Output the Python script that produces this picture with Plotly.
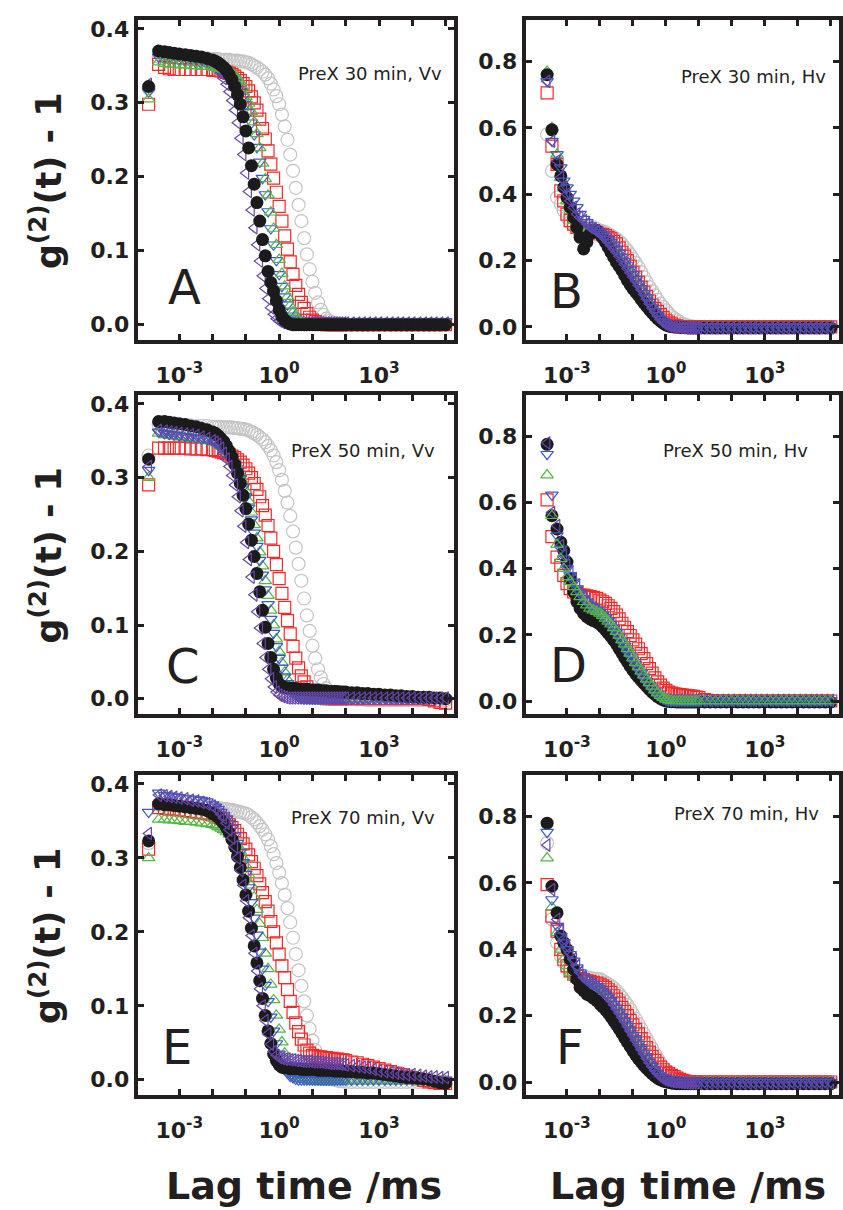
import plotly.graph_objects as go

W, H = 843, 1210

# ---------------- lag-time grids (ms) ----------------
t_vv = [1.2e-4, 2.4e-4, 3.6e-4, 5e-4, 7e-4, 1e-3, 1.5e-3, 2.2e-3, 3.2e-3, 4.6e-3, 6.8e-3,
        0.01, 0.0121, 0.0147, 0.0178, 0.0215, 0.0261, 0.0316, 0.0383, 0.0464, 0.0562, 0.0681, 0.0825,
        0.1, 0.121, 0.147, 0.178, 0.215, 0.261, 0.316, 0.383, 0.464, 0.562, 0.681, 0.825,
        1, 1.21, 1.47, 1.78, 2.15, 2.61, 3.16, 3.83, 4.64, 5.62, 6.81, 8.25,
        10, 12.1, 14.7, 17.8, 21.5, 26.1, 31.6, 38.3, 46.4, 56.2, 68.1, 82.5,
        100, 150, 220, 320, 460, 680,
        1e3, 1.5e3, 2.2e3, 3.2e3, 4.6e3, 6.8e3,
        1e4, 1.5e4, 2.2e4, 3.2e4, 4.6e4, 6.8e4,
        1e5]

t_hv = [2.5e-4, 3.5e-4, 5e-4, 6.5e-4, 8e-4, 1e-3, 1.25e-3, 1.6e-3, 2e-3, 2.5e-3, 3.2e-3, 4e-3, 5e-3, 6.3e-3, 8e-3,
        0.01, 0.0121, 0.0147, 0.0178, 0.0215, 0.0261, 0.0316, 0.0383, 0.0464, 0.0562, 0.0681, 0.0825,
        0.1, 0.121, 0.147, 0.178, 0.215, 0.261, 0.316, 0.383, 0.464, 0.562, 0.681, 0.825,
        1, 1.21, 1.47, 1.78, 2.15, 2.61, 3.16, 3.83, 4.64, 5.62, 6.81, 8.25,
        10, 15, 22, 32, 46, 68,
        100, 150, 220, 320, 460, 680,
        1e3, 1.5e3, 2.2e3, 3.2e3, 4.6e3, 6.8e3,
        1e4, 1.5e4, 2.2e4, 3.2e4, 4.6e4, 6.8e4,
        1e5]

# ---------------- Panel A : PreX 30 min, Vv ----------------
gray_A = [0.320, 0.362, 0.362, 0.362, 0.362, 0.361, 0.361, 0.361, 0.360, 0.360, 0.360,
          0.359, 0.359, 0.359, 0.358, 0.358, 0.358, 0.358, 0.357, 0.357, 0.357, 0.356, 0.356,
          0.355, 0.354, 0.352, 0.350, 0.348, 0.345, 0.342, 0.338, 0.333, 0.326, 0.318, 0.309,
          0.298, 0.284, 0.268, 0.250, 0.230, 0.208, 0.185, 0.162, 0.140, 0.117, 0.095, 0.075,
          0.058, 0.043, 0.030, 0.020, 0.013, 0.008, 0.005, 0.003, 0.002, 0.001, 0.001, 0.000,
          0, 0, 0, 0, 0, 0,
          0, 0, 0, 0, 0, 0,
          0, 0, 0, 0, 0, 0,
          0]
red_A = [0.298, 0.352, 0.348, 0.346, 0.345, 0.345, 0.345, 0.345, 0.345, 0.345, 0.345,
         0.344, 0.344, 0.344, 0.343, 0.342, 0.341, 0.340, 0.338, 0.336, 0.333, 0.330, 0.326,
         0.322, 0.316, 0.308, 0.300, 0.290, 0.278, 0.265, 0.251, 0.235, 0.217, 0.198, 0.179,
         0.160, 0.140, 0.120, 0.102, 0.085, 0.068, 0.053, 0.041, 0.030, 0.022, 0.015, 0.010,
         0.006, 0.004, 0.002, 0.001, 0.001, 0, 0, 0, 0, 0, 0, 0,
         0, 0, 0, 0, 0, 0,
         0, 0, 0, 0, 0, 0,
         0, 0, 0, 0, 0, 0,
         0]
green_A = [0.305, 0.355, 0.353, 0.352, 0.352, 0.351, 0.351, 0.350, 0.350, 0.349, 0.349,
           0.348, 0.348, 0.347, 0.346, 0.345, 0.344, 0.342, 0.340, 0.337, 0.333, 0.328, 0.320,
           0.308, 0.299, 0.288, 0.274, 0.258, 0.239, 0.218, 0.197, 0.175, 0.152, 0.130, 0.108,
           0.088, 0.069, 0.052, 0.038, 0.026, 0.017, 0.010, 0.006, 0.003, 0.002, 0.001, 0,
           0, 0, 0, 0, 0, 0, 0, 0, 0, 0, 0, 0,
           0, 0, 0, 0, 0, 0,
           0, 0, 0, 0, 0, 0,
           0, 0, 0, 0, 0, 0,
           0]
blue_A = [0.315, 0.362, 0.360, 0.359, 0.358, 0.357, 0.356, 0.355, 0.354, 0.353, 0.352,
          0.350, 0.349, 0.347, 0.345, 0.343, 0.340, 0.337, 0.333, 0.328, 0.323, 0.316, 0.308,
          0.298, 0.287, 0.273, 0.257, 0.240, 0.220, 0.198, 0.176, 0.153, 0.130, 0.108, 0.087,
          0.068, 0.052, 0.038, 0.027, 0.018, 0.012, 0.008, 0.006, 0.004, 0.004, 0.004, 0.004,
          0.004, 0.004, 0.004, 0.004, 0.004, 0.004, 0.004, 0.004, 0.004, 0.004, 0.004, 0.004,
          0.004, 0.004, 0.004, 0.004, 0.004, 0.004,
          0.004, 0.004, 0.004, 0.004, 0.004, 0.004,
          0.004, 0.004, 0.004, 0.004, 0.004, 0.004,
          0.004]
purple_A = [0.325, 0.366, 0.365, 0.364, 0.363, 0.362, 0.361, 0.360, 0.359, 0.358, 0.356,
            0.353, 0.350, 0.345, 0.340, 0.333, 0.325, 0.315, 0.303, 0.290, 0.273, 0.252, 0.230,
            0.205, 0.180, 0.155, 0.131, 0.108, 0.086, 0.066, 0.049, 0.035, 0.023, 0.014, 0.008,
            0.005, 0.003, 0.002, 0.002, 0.002, 0.002, 0.002, 0.002, 0.002, 0.002, 0.002, 0.002,
            0.002, 0.002, 0.002, 0.002, 0.002, 0.002, 0.002, 0.002, 0.002, 0.002, 0.002, 0.002,
            0.002, 0.002, 0.002, 0.002, 0.002, 0.002,
            0.002, 0.002, 0.002, 0.002, 0.002, 0.002,
            0.002, 0.002, 0.002, 0.002, 0.002, 0.002,
            0.002]
black_A = [0.322, 0.370, 0.369, 0.368, 0.367, 0.366, 0.365, 0.364, 0.363, 0.362, 0.360,
           0.358, 0.356, 0.354, 0.351, 0.348, 0.344, 0.338, 0.331, 0.322, 0.311, 0.298, 0.281,
           0.262, 0.239, 0.215, 0.190, 0.165, 0.140, 0.115, 0.093, 0.072, 0.057, 0.045, 0.032,
           0.020, 0.011, 0.006, 0.003, 0.001, 0, 0, 0, 0, 0, 0, 0,
           0, 0, 0, 0, 0, 0, 0, 0, 0, 0, 0, 0,
           0, 0, 0, 0, 0, 0,
           0, 0, 0, 0, 0, 0,
           0, 0, 0, 0, 0, 0,
           0]

# ---------------- Panel C : PreX 50 min, Vv ----------------
gray_C = [0.330, 0.372, 0.372, 0.372, 0.372, 0.371, 0.371, 0.371, 0.370, 0.370, 0.370,
          0.369, 0.369, 0.369, 0.369, 0.368, 0.368, 0.368, 0.368, 0.367, 0.367, 0.366, 0.366,
          0.365, 0.364, 0.362, 0.360, 0.358, 0.355, 0.352, 0.348, 0.343, 0.337, 0.330, 0.321,
          0.310, 0.297, 0.282, 0.266, 0.248, 0.227, 0.205, 0.183, 0.160, 0.136, 0.113, 0.092,
          0.072, 0.055, 0.040, 0.029, 0.020, 0.014, 0.009, 0.006, 0.004, 0.003, 0.002, 0.001,
          0, 0, -0.001, -0.001, -0.002, -0.002,
          -0.002, -0.002, -0.002, -0.002, -0.002, -0.002,
          -0.002, -0.002, -0.002, -0.002, -0.002, -0.002,
          -0.002]
red_C = [0.290, 0.340, 0.340, 0.340, 0.340, 0.340, 0.340, 0.339, 0.339, 0.339, 0.338,
         0.338, 0.337, 0.336, 0.335, 0.334, 0.333, 0.331, 0.329, 0.327, 0.324, 0.321, 0.317,
         0.312, 0.306, 0.300, 0.292, 0.284, 0.274, 0.262, 0.249, 0.235, 0.218, 0.200, 0.182,
         0.163, 0.143, 0.124, 0.106, 0.088, 0.071, 0.055, 0.042, 0.031, 0.023, 0.016, 0.011,
         0.007, 0.005, 0.003, 0.002, 0.001, 0, 0, 0, 0, 0, 0, 0,
         0, 0, 0, 0, 0, 0,
         0, 0, 0, 0, 0, 0,
         0, 0, 0, -0.001, -0.003, -0.005,
         -0.006]
green_C = [0.300, 0.360, 0.358, 0.357, 0.356, 0.355, 0.354, 0.353, 0.352, 0.351, 0.350,
           0.348, 0.347, 0.345, 0.343, 0.340, 0.337, 0.333, 0.328, 0.322, 0.314, 0.305, 0.294,
           0.282, 0.268, 0.253, 0.236, 0.218, 0.199, 0.180, 0.160, 0.140, 0.120, 0.100, 0.081,
           0.064, 0.049, 0.036, 0.026, 0.017, 0.011, 0.007, 0.004, 0.002, 0.001, 0, -0.001,
           -0.002, -0.003, -0.003, -0.003, -0.003, -0.003, -0.002, -0.002, -0.002, -0.002, -0.001, -0.001,
           0, 0, 0, 0, 0, 0,
           0, 0, 0, 0, 0, 0,
           0, 0, 0, 0, 0, 0,
           0]
blue_C = [0.310, 0.362, 0.360, 0.359, 0.358, 0.357, 0.356, 0.355, 0.354, 0.353, 0.352,
          0.350, 0.348, 0.346, 0.343, 0.340, 0.336, 0.331, 0.325, 0.318, 0.309, 0.299, 0.287,
          0.274, 0.259, 0.243, 0.225, 0.207, 0.188, 0.168, 0.148, 0.128, 0.108, 0.089, 0.071,
          0.055, 0.042, 0.030, 0.021, 0.014, 0.009, 0.005, 0.003, 0.001, 0, 0, 0,
          0, 0, 0, 0, 0, 0, 0, 0, 0, 0, 0, 0,
          0, 0, 0, 0, 0, 0,
          0, 0, 0, 0, 0, 0,
          0, 0, 0, 0, 0, 0,
          0]
black_C = [0.325, 0.376, 0.376, 0.375, 0.374, 0.373, 0.372, 0.370, 0.369, 0.367, 0.365,
           0.362, 0.360, 0.357, 0.353, 0.349, 0.343, 0.336, 0.328, 0.318, 0.306, 0.292, 0.276,
           0.258, 0.237, 0.215, 0.193, 0.170, 0.145, 0.120, 0.097, 0.075, 0.056, 0.040, 0.028,
           0.020, 0.017, 0.015, 0.015, 0.014, 0.014, 0.014, 0.013, 0.013, 0.013, 0.013, 0.012,
           0.012, 0.012, 0.012, 0.011, 0.011, 0.011, 0.010, 0.010, 0.010, 0.010, 0.009, 0.009,
           0.009, 0.008, 0.008, 0.007, 0.007, 0.006,
           0.006, 0.005, 0.005, 0.004, 0.004, 0.003,
           0.003, 0.002, 0.002, 0.002, 0.001, 0.001,
           0.000]
purple_C = [0.315, 0.364, 0.363, 0.362, 0.361, 0.360, 0.359, 0.358, 0.357, 0.355, 0.353,
            0.350, 0.348, 0.345, 0.340, 0.333, 0.325, 0.315, 0.303, 0.290, 0.274, 0.255, 0.234,
            0.212, 0.189, 0.165, 0.141, 0.118, 0.096, 0.075, 0.056, 0.040, 0.027, 0.016, 0.009,
            0.005, 0.003, 0.002, 0.001, 0.001, 0.001, 0.001, 0.001, 0.001, 0.001, 0.001, 0.001,
            0.001, 0.001, 0.001, 0.001, 0.001, 0.001, 0.001, 0.001, 0.001, 0.001, 0.001, 0.001,
            0.001, 0.001, 0.001, 0.001, 0.001, 0.001,
            0.001, 0.001, 0.001, 0.001, 0.001, 0.001,
            0.001, 0.001, 0.001, 0.001, 0.001, 0.001,
            0.001]

# ---------------- Panel E : PreX 70 min, Vv ----------------
gray_E = [0.320, 0.372, 0.372, 0.371, 0.371, 0.371, 0.370, 0.370, 0.370, 0.369, 0.369,
          0.368, 0.368, 0.367, 0.367, 0.366, 0.366, 0.365, 0.365, 0.364, 0.363, 0.362, 0.361,
          0.360, 0.358, 0.355, 0.352, 0.348, 0.343, 0.338, 0.332, 0.325, 0.316, 0.305, 0.293,
          0.280, 0.266, 0.250, 0.232, 0.213, 0.192, 0.170, 0.148, 0.127, 0.106, 0.087, 0.069,
          0.053, 0.040, 0.028, 0.019, 0.012, 0.007, 0.004, 0.002, 0.000, -0.001, -0.002, -0.002,
          -0.003, -0.003, -0.003, -0.003, -0.003, -0.003,
          -0.003, -0.003, -0.003, -0.003, -0.003, -0.003,
          -0.003, -0.003, -0.003, -0.003, -0.003, -0.003,
          -0.003]
red_E = [0.312, 0.368, 0.367, 0.366, 0.366, 0.365, 0.364, 0.363, 0.362, 0.361, 0.360,
         0.358, 0.357, 0.355, 0.353, 0.351, 0.348, 0.345, 0.341, 0.337, 0.332, 0.326, 0.319,
         0.312, 0.304, 0.295, 0.286, 0.276, 0.265, 0.253, 0.241, 0.228, 0.214, 0.200, 0.185,
         0.170, 0.154, 0.138, 0.122, 0.106, 0.091, 0.077, 0.065, 0.055, 0.047, 0.040, 0.036,
         0.033, 0.032, 0.031, 0.031, 0.030, 0.030, 0.029, 0.029, 0.028, 0.028, 0.027, 0.027,
         0.026, 0.024, 0.023, 0.021, 0.019, 0.017,
         0.015, 0.013, 0.011, 0.009, 0.007, 0.005,
         0.003, 0.001, -0.001, -0.003, -0.004, -0.005,
         -0.005]
green_E = [0.300, 0.352, 0.352, 0.351, 0.351, 0.350, 0.349, 0.349, 0.348, 0.347, 0.346,
           0.345, 0.344, 0.342, 0.340, 0.338, 0.335, 0.332, 0.328, 0.323, 0.317, 0.309, 0.300,
           0.290, 0.277, 0.263, 0.247, 0.230, 0.211, 0.192, 0.171, 0.150, 0.129, 0.108, 0.087,
           0.068, 0.051, 0.036, 0.024, 0.015, 0.009, 0.005, 0.002, 0.001, 0, 0, -0.001,
           -0.002, -0.002, -0.003, -0.003, -0.003, -0.003, -0.003, -0.003, -0.002, -0.002, -0.002, -0.002,
           -0.002, -0.002, -0.002, -0.002, -0.002, -0.002,
           -0.002, -0.002, -0.002, -0.002, -0.002, -0.002,
           -0.002, -0.002, -0.002, -0.002, -0.002, -0.002,
           -0.002]
blue_E = [0.362, 0.388, 0.385, 0.384, 0.383, 0.382, 0.381, 0.380, 0.379, 0.378, 0.376,
          0.372, 0.369, 0.366, 0.362, 0.358, 0.353, 0.347, 0.340, 0.331, 0.320, 0.308, 0.294,
          0.278, 0.260, 0.240, 0.219, 0.196, 0.173, 0.150, 0.128, 0.106, 0.085, 0.066, 0.049,
          0.035, 0.024, 0.015, 0.009, 0.005, 0.003, 0.001, 0, 0, 0, 0, 0,
          0, 0, 0, 0, 0, 0, 0, 0, 0, 0, 0, 0,
          0, 0, 0, 0, 0, 0,
          0, 0, 0, 0, 0, 0,
          0, 0, 0, 0, 0, 0,
          0]
black_E = [0.323, 0.373, 0.372, 0.372, 0.371, 0.370, 0.369, 0.368, 0.367, 0.366, 0.364,
           0.360, 0.358, 0.355, 0.351, 0.347, 0.341, 0.334, 0.325, 0.315, 0.302, 0.287, 0.270,
           0.250, 0.228, 0.205, 0.181, 0.158, 0.134, 0.110, 0.087, 0.066, 0.049, 0.035, 0.026,
           0.020, 0.017, 0.016, 0.016, 0.015, 0.015, 0.015, 0.015, 0.014, 0.014, 0.014, 0.014,
           0.014, 0.014, 0.013, 0.013, 0.013, 0.013, 0.013, 0.013, 0.012, 0.012, 0.012, 0.012,
           0.011, 0.011, 0.010, 0.010, 0.009, 0.009,
           0.008, 0.007, 0.006, 0.005, 0.004, 0.003,
           0.003, 0.002, 0.001, 0.000, -0.002, -0.004,
           -0.005]
purple_E = [0.333, 0.385, 0.384, 0.383, 0.382, 0.381, 0.380, 0.378, 0.377, 0.375, 0.373,
            0.370, 0.367, 0.364, 0.359, 0.354, 0.347, 0.338, 0.327, 0.315, 0.300, 0.283, 0.263,
            0.242, 0.219, 0.195, 0.171, 0.147, 0.123, 0.100, 0.080, 0.062, 0.048, 0.038, 0.033,
            0.030, 0.029, 0.028, 0.028, 0.027, 0.027, 0.026, 0.026, 0.025, 0.025, 0.025, 0.025,
            0.024, 0.024, 0.024, 0.024, 0.023, 0.023, 0.022, 0.022, 0.022, 0.022, 0.021, 0.021,
            0.020, 0.019, 0.018, 0.017, 0.016, 0.014,
            0.012, 0.011, 0.010, 0.009, 0.008, 0.007,
            0.007, 0.006, 0.005, 0.004, 0.004, 0.003,
            0.003]

# ---------------- Panel B : PreX 30 min, Hv ----------------
gray_B = [0.580, 0.470, 0.390, 0.370, 0.350, 0.330, 0.315, 0.305, 0.300, 0.300, 0.300, 0.300, 0.300, 0.300, 0.295,
          0.290, 0.288, 0.285, 0.280, 0.275, 0.270, 0.265, 0.258, 0.250, 0.240, 0.230, 0.218,
          0.205, 0.193, 0.180, 0.165, 0.150, 0.135, 0.120, 0.108, 0.095, 0.082, 0.070, 0.060,
          0.050, 0.041, 0.032, 0.026, 0.020, 0.015, 0.010, 0.007, 0.004, 0.002, 0.001, 0.000,
          0, 0, 0, 0, 0, 0,
          0, 0, 0, 0, 0, 0,
          0, 0, 0, 0, 0, 0,
          0, 0, 0, 0, 0, 0,
          0]
red_B = [0.705, 0.545, 0.490, 0.410, 0.380, 0.340, 0.320, 0.310, 0.300, 0.295, 0.290, 0.290, 0.290, 0.290, 0.285,
         0.280, 0.278, 0.275, 0.270, 0.265, 0.258, 0.250, 0.238, 0.225, 0.213, 0.200, 0.183,
         0.165, 0.150, 0.135, 0.120, 0.105, 0.091, 0.078, 0.066, 0.055, 0.046, 0.037, 0.028,
         0.020, 0.014, 0.009, 0.005, 0.003, 0.001, 0, 0, 0, 0, 0, 0,
         0, 0, 0, 0, 0, 0,
         0, 0, 0, 0, 0, 0,
         0, 0, 0, 0, 0, 0,
         0, 0, 0, 0, 0, 0,
         0]
green_B = [0.770, 0.600, 0.520, 0.450, 0.420, 0.380, 0.350, 0.320, 0.300, 0.290, 0.285, 0.285, 0.282, 0.280, 0.278,
           0.275, 0.270, 0.265, 0.258, 0.250, 0.240, 0.230, 0.218, 0.205, 0.193, 0.180, 0.166,
           0.152, 0.138, 0.125, 0.111, 0.097, 0.083, 0.070, 0.057, 0.045, 0.034, 0.023, 0.015,
           0.009, 0.005, 0.002, 0.001, 0, 0, 0, 0, 0, 0, 0, 0,
           0, 0, 0, 0, 0, 0,
           0, 0, 0, 0, 0, 0,
           0, 0, 0, 0, 0, 0,
           0, 0, 0, 0, 0, 0,
           0]
black_B = [0.760, 0.594, 0.490, 0.455, 0.420, 0.390, 0.360, 0.330, 0.300, 0.270, 0.235, 0.255, 0.280, 0.290, 0.290,
           0.280, 0.268, 0.255, 0.240, 0.225, 0.210, 0.195, 0.183, 0.170, 0.155, 0.140, 0.127,
           0.115, 0.105, 0.095, 0.083, 0.072, 0.062, 0.052, 0.042, 0.033, 0.025, 0.018, 0.011,
           0.006, 0.003, 0.001, 0, 0, -0.001, -0.002, -0.002, -0.003, -0.003, -0.003, -0.003,
           -0.003, -0.003, -0.003, -0.003, -0.003, -0.003,
           -0.003, -0.003, -0.003, -0.003, -0.003, -0.003,
           -0.003, -0.003, -0.003, -0.003, -0.003, -0.003,
           -0.003, -0.003, -0.003, -0.003, -0.003, -0.003,
           -0.003]
blue_B = [0.740, 0.560, 0.520, 0.480, 0.440, 0.420, 0.400, 0.380, 0.360, 0.340, 0.325, 0.315, 0.305, 0.298, 0.292,
          0.285, 0.279, 0.272, 0.264, 0.255, 0.245, 0.235, 0.223, 0.210, 0.198, 0.185, 0.172,
          0.158, 0.144, 0.130, 0.116, 0.102, 0.088, 0.074, 0.060, 0.047, 0.035, 0.024, 0.015,
          0.009, 0.005, 0.003, 0.002, 0.001, 0, 0, 0, 0, 0, 0, 0,
          0, 0, 0, 0, 0, 0,
          0, 0, 0, 0, 0, 0,
          0, 0, 0, 0, 0, 0,
          0, 0, 0, 0, 0, 0,
          0]
purple_B = [0.740, 0.560, 0.500, 0.450, 0.420, 0.400, 0.380, 0.360, 0.340, 0.330, 0.320, 0.310, 0.300, 0.295, 0.288,
            0.280, 0.273, 0.265, 0.255, 0.245, 0.235, 0.225, 0.213, 0.200, 0.188, 0.175, 0.163,
            0.150, 0.138, 0.125, 0.112, 0.098, 0.084, 0.070, 0.057, 0.045, 0.033, 0.022, 0.014,
            0.008, 0.004, 0.002, 0.001, 0, -0.001, -0.002, -0.002, -0.003, -0.003, -0.003, -0.003,
            -0.003, -0.003, -0.003, -0.003, -0.003, -0.003,
            -0.003, -0.003, -0.003, -0.003, -0.003, -0.003,
            -0.003, -0.003, -0.003, -0.003, -0.003, -0.003,
            -0.003, -0.003, -0.003, -0.003, -0.003, -0.003,
            -0.003]

# ---------------- Panel D : PreX 50 min, Hv ----------------
red_D = [0.608, 0.497, 0.435, 0.410, 0.380, 0.355, 0.340, 0.330, 0.325, 0.320, 0.320, 0.318, 0.316, 0.313, 0.310,
         0.305, 0.300, 0.295, 0.288, 0.280, 0.270, 0.260, 0.248, 0.235, 0.223, 0.210, 0.198,
         0.185, 0.172, 0.158, 0.143, 0.128, 0.113, 0.098, 0.084, 0.070, 0.058, 0.048, 0.039,
         0.032, 0.027, 0.024, 0.022, 0.020, 0.019, 0.018, 0.017, 0.016, 0.015, 0.014, 0.012,
         0.010, 0.004, 0.001, 0, 0, 0,
         0, 0, 0, 0, 0, 0,
         0, 0, 0, 0, 0, 0,
         0, 0, 0, 0, 0, 0,
         0]
black_D = [0.776, 0.560, 0.520, 0.480, 0.455, 0.420, 0.370, 0.330, 0.300, 0.280, 0.265, 0.255, 0.248, 0.243, 0.238,
           0.232, 0.224, 0.215, 0.205, 0.195, 0.184, 0.172, 0.158, 0.145, 0.131, 0.118, 0.105,
           0.093, 0.082, 0.072, 0.062, 0.053, 0.044, 0.035, 0.027, 0.020, 0.013, 0.008, 0.003,
           0, -0.001, -0.002, -0.002, -0.003, -0.003, -0.003, -0.003, -0.003, -0.003, -0.003, -0.003,
           -0.003, -0.003, -0.003, -0.003, -0.003, -0.003,
           -0.003, -0.003, -0.003, -0.003, -0.003, -0.003,
           -0.003, -0.003, -0.003, -0.003, -0.003, -0.003,
           -0.003, -0.003, -0.003, -0.003, -0.003, -0.003,
           -0.003]
purple_D = [0.780, 0.570, 0.530, 0.470, 0.440, 0.410, 0.390, 0.370, 0.350, 0.330, 0.315, 0.300, 0.290, 0.280, 0.272,
            0.265, 0.258, 0.250, 0.240, 0.230, 0.218, 0.205, 0.192, 0.178, 0.164, 0.150, 0.136,
            0.122, 0.108, 0.095, 0.082, 0.070, 0.058, 0.047, 0.037, 0.028, 0.019, 0.012, 0.007,
            0.003, 0.002, 0.002, 0.002, 0.002, 0.002, 0.002, 0.002, 0.002, 0.002, 0.002, 0.002,
            0.002, 0.002, 0.002, 0.002, 0.002, 0.002,
            0.002, 0.002, 0.002, 0.002, 0.002, 0.002,
            0.002, 0.002, 0.002, 0.002, 0.002, 0.002,
            0.002, 0.002, 0.002, 0.002, 0.002, 0.002,
            0.002]
blue_D = [0.746, 0.623, 0.500, 0.460, 0.430, 0.400, 0.380, 0.360, 0.340, 0.325, 0.310, 0.300, 0.290, 0.282, 0.275,
          0.268, 0.260, 0.252, 0.242, 0.232, 0.220, 0.208, 0.194, 0.180, 0.166, 0.152, 0.138,
          0.124, 0.110, 0.097, 0.084, 0.072, 0.060, 0.048, 0.038, 0.028, 0.019, 0.012, 0.007,
          0.003, 0.001, 0.001, 0.001, 0.001, 0.001, 0.001, 0.001, 0.001, 0.001, 0.001, 0.001,
          0.001, 0.001, 0.001, 0.001, 0.001, 0.001,
          0.001, 0.001, 0.001, 0.001, 0.001, 0.001,
          0.001, 0.001, 0.001, 0.001, 0.001, 0.001,
          0.001, 0.001, 0.001, 0.001, 0.001, 0.001,
          0.001]
green_D = [0.683, 0.560, 0.473, 0.430, 0.400, 0.375, 0.360, 0.345, 0.330, 0.315, 0.300, 0.290, 0.280, 0.275, 0.270,
           0.265, 0.258, 0.250, 0.241, 0.232, 0.221, 0.210, 0.198, 0.185, 0.172, 0.158, 0.144,
           0.130, 0.116, 0.103, 0.090, 0.078, 0.066, 0.055, 0.044, 0.033, 0.024, 0.016, 0.010,
           0.005, 0.003, 0.001, 0, 0, 0, 0, 0, 0, 0, 0, 0,
           0, 0, 0, 0, 0, 0,
           0, 0, 0, 0, 0, 0,
           0, 0, 0, 0, 0, 0,
           0, 0, 0, 0, 0, 0,
           0]

# ---------------- Panel F : PreX 70 min, Hv ----------------
gray_F = [0.720, 0.490, 0.420, 0.380, 0.360, 0.345, 0.335, 0.330, 0.325, 0.320, 0.318, 0.316, 0.314, 0.312, 0.311,
          0.310, 0.305, 0.300, 0.295, 0.290, 0.283, 0.275, 0.265, 0.255, 0.244, 0.232, 0.219,
          0.205, 0.190, 0.175, 0.160, 0.145, 0.130, 0.115, 0.100, 0.085, 0.071, 0.058, 0.046,
          0.036, 0.027, 0.020, 0.014, 0.010, 0.007, 0.004, 0.002, 0.001, 0, 0, 0,
          0, 0, 0, 0, 0, 0,
          0, 0, 0, 0, 0, 0,
          0, 0, 0, 0, 0, 0,
          0, 0, 0, 0, 0, 0,
          0]
red_F = [0.595, 0.500, 0.455, 0.400, 0.370, 0.350, 0.335, 0.325, 0.318, 0.312, 0.308, 0.305, 0.303, 0.300, 0.298,
         0.295, 0.290, 0.285, 0.278, 0.270, 0.260, 0.250, 0.238, 0.225, 0.213, 0.200, 0.186,
         0.172, 0.158, 0.145, 0.131, 0.118, 0.104, 0.090, 0.077, 0.065, 0.055, 0.045, 0.037,
         0.030, 0.025, 0.020, 0.016, 0.012, 0.008, 0.005, 0.003, 0.001, 0, 0, 0,
         0, 0, 0, 0, 0, 0,
         0, 0, 0, 0, 0, 0,
         0, 0, 0, 0, 0, 0,
         0, 0, 0, 0, 0, 0,
         0]
green_F = [0.675, 0.527, 0.450, 0.400, 0.370, 0.350, 0.330, 0.320, 0.312, 0.305, 0.300, 0.295, 0.290, 0.285, 0.280,
           0.275, 0.269, 0.262, 0.253, 0.243, 0.232, 0.220, 0.208, 0.195, 0.182, 0.168, 0.154,
           0.140, 0.126, 0.112, 0.098, 0.085, 0.071, 0.058, 0.046, 0.035, 0.025, 0.017, 0.011,
           0.006, 0.003, 0.001, 0, 0, 0, 0, 0, 0, 0, 0, 0,
           0, 0, 0, 0, 0, 0,
           0, 0, 0, 0, 0, 0,
           0, 0, 0, 0, 0, 0,
           0, 0, 0, 0, 0, 0,
           0]
black_F = [0.780, 0.590, 0.510, 0.440, 0.420, 0.400, 0.370, 0.340, 0.310, 0.285, 0.275, 0.265, 0.260, 0.253, 0.245,
           0.235, 0.227, 0.218, 0.208, 0.197, 0.185, 0.173, 0.160, 0.147, 0.133, 0.120, 0.107,
           0.094, 0.082, 0.070, 0.060, 0.050, 0.041, 0.033, 0.025, 0.018, 0.012, 0.007, 0.003,
           0.001, -0.001, -0.003, -0.004, -0.005, -0.005, -0.005, -0.005, -0.005, -0.005, -0.005, -0.005,
           -0.005, -0.005, -0.005, -0.005, -0.005, -0.005,
           -0.005, -0.005, -0.005, -0.005, -0.005, -0.005,
           -0.005, -0.005, -0.005, -0.005, -0.005, -0.005,
           -0.005, -0.005, -0.005, -0.005, -0.005, -0.005,
           -0.005]
blue_F = [0.753, 0.550, 0.470, 0.440, 0.420, 0.400, 0.385, 0.365, 0.345, 0.330, 0.318, 0.308, 0.300, 0.294, 0.288,
          0.281, 0.274, 0.266, 0.257, 0.246, 0.234, 0.222, 0.209, 0.196, 0.183, 0.169, 0.155,
          0.141, 0.127, 0.113, 0.099, 0.086, 0.072, 0.059, 0.047, 0.036, 0.026, 0.017, 0.011,
          0.006, 0.004, 0.002, 0.001, 0, 0, 0, 0, 0, 0, 0, 0,
          0, 0, 0, 0, 0, 0,
          0, 0, 0, 0, 0, 0,
          0, 0, 0, 0, 0, 0,
          0, 0, 0, 0, 0, 0,
          0]
purple_F = [0.714, 0.580, 0.490, 0.460, 0.430, 0.410, 0.390, 0.370, 0.350, 0.330, 0.315, 0.305, 0.300, 0.295, 0.288,
            0.280, 0.273, 0.265, 0.255, 0.245, 0.233, 0.220, 0.208, 0.195, 0.182, 0.168, 0.154,
            0.140, 0.126, 0.112, 0.098, 0.085, 0.071, 0.058, 0.046, 0.035, 0.025, 0.017, 0.011,
            0.006, 0.004, 0.002, 0.001, 0, -0.001, -0.002, -0.002, -0.003, -0.003, -0.003, -0.003,
            -0.003, -0.003, -0.003, -0.003, -0.003, -0.003,
            -0.003, -0.003, -0.003, -0.003, -0.003, -0.003,
            -0.003, -0.003, -0.003, -0.003, -0.003, -0.003,
            -0.003, -0.003, -0.003, -0.003, -0.003, -0.003,
            -0.003]

panel_titles = ["PreX 30 min, Vv", "PreX 30 min, Hv",
                "PreX 50 min, Vv", "PreX 50 min, Hv",
                "PreX 70 min, Vv", "PreX 70 min, Hv"]
panel_letters = ["A", "B", "C", "D", "E", "F"]
x_tick_values = [1e-3, 1, 1e3]
x_tick_labels = ["10<sup>-3</sup>", "10<sup>0</sup>", "10<sup>3</sup>"]
x_minor_values = [1e-2, 1e-1, 1e1, 1e2, 1e4, 1e5]
vv_y_ticks = [0.0, 0.1, 0.2, 0.3, 0.4]
hv_y_ticks = [0.0, 0.2, 0.4, 0.6, 0.8]
y_title = "g<sup>(2)</sup>(t) - 1"
x_title = "Lag time /ms"

# ---------------- styles ----------------
STY = {
    "gray":   dict(symbol="circle-open", color="#c4c4c4", size=13),
    "red":    dict(symbol="square-open", color="#f42828", size=12),
    "green":  dict(symbol="triangle-up-open", color="#55b646", size=11),
    "blue":   dict(symbol="triangle-down-open", color="#3a5ac8", size=11),
    "purple": dict(symbol="triangle-left-open", color="#6646a8", size=11),
    "black":  dict(symbol="circle", color="#1b1b1b", size=13),
}
FR = "#231f20"

panels = [
    (t_vv, [("gray", gray_A), ("red", red_A), ("purple", purple_A), ("blue", blue_A), ("green", green_A), ("black", black_A)]),
    (t_hv, [("gray", gray_B), ("red", red_B), ("green", green_B), ("black", black_B), ("blue", blue_B), ("purple", purple_B)]),
    (t_vv, [("gray", gray_C), ("red", red_C), ("green", green_C), ("blue", blue_C), ("black", black_C), ("purple", purple_C)]),
    (t_hv, [("red", red_D), ("black", black_D), ("purple", purple_D), ("blue", blue_D), ("green", green_D)]),
    (t_vv, [("gray", gray_E), ("red", red_E), ("green", green_E), ("blue", blue_E), ("black", black_E), ("purple", purple_E)]),
    (t_hv, [("gray", gray_F), ("red", red_F), ("green", green_F), ("black", black_F), ("blue", blue_F), ("purple", purple_F)]),
]
for tt, series in panels:
    for name, vals in series:
        assert len(vals) == len(tt), (name, len(vals), len(tt))

# plot-area pixel boxes (left, right, top, bottom)
col_px = [(138, 455), (527, 841)]
row_px = [(17, 338), (393, 713), (774, 1095)]

fig = go.Figure()
layout = dict(width=W, height=H, margin=dict(l=0, r=0, t=0, b=0),
              paper_bgcolor="white", plot_bgcolor="white", showlegend=False,
              annotations=[])

for i, (tt, series) in enumerate(panels):
    r, c = divmod(i, 2)
    n = i + 1
    xa = "x" if n == 1 else f"x{n}"
    ya = "y" if n == 1 else f"y{n}"
    for name, vals in series:
        s = STY[name]
        fig.add_trace(go.Scatter(
            x=tt, y=vals, mode="markers", xaxis=xa, yaxis=ya,
            marker=dict(symbol=s["symbol"], size=s["size"], color=s["color"],
                        line=dict(color=s["color"], width=1.2 if name != "black" else 0)),
        ))
    L, R = col_px[c]
    T, B = row_px[r]
    common = dict(showgrid=False, zeroline=False, showline=True, linewidth=4, linecolor=FR,
                  mirror="ticks", ticks="inside", ticklen=6, tickwidth=3, tickcolor=FR)
    layout[f"xaxis{'' if n == 1 else n}"] = dict(
        common, domain=[L / W, R / W], anchor=ya, type="log", range=[-4.25, 5.25],
        tickvals=x_tick_values, ticktext=x_tick_labels, ticklabelstandoff=12,
        minor=dict(tickvals=x_minor_values, ticks="inside", ticklen=6, tickwidth=3,
                   tickcolor=FR, showgrid=False),
        tickfont=dict(family="DejaVu Sans", size=22, color=FR, weight="bold"))
    if c == 0:
        yr, yt = [-0.021, 0.412], vv_y_ticks
    else:
        yr, yt = [-0.04, 0.925], hv_y_ticks
    layout[f"yaxis{'' if n == 1 else n}"] = dict(
        common, domain=[1 - B / H, 1 - T / H], anchor=xa, range=yr,
        tickvals=yt, ticktext=[f"{v:.1f}" for v in yt], ticklabelstandoff=0,
        tickfont=dict(family="DejaVu Sans", size=22, color=FR, weight="bold"))

# panel captions and letters (pixel positions)
title_pos = [(445, 71), (830, 74), (438, 449), (812, 449), (438, 817), (823, 813)]
letter_pos = [(185, 285), (568, 289), (183, 665), (570, 664), (177, 1047), (571, 1047)]
for i in range(6):
    tx, ty = title_pos[i]
    layout["annotations"].append(dict(
        text=panel_titles[i], xref="paper", yref="paper", x=tx / W, y=1 - ty / H,
        xanchor="right", yanchor="middle", showarrow=False,
        font=dict(family="DejaVu Sans", size=18, color=FR)))
    lx, ly = letter_pos[i]
    layout["annotations"].append(dict(
        text=panel_letters[i], xref="paper", yref="paper", x=lx / W, y=1 - ly / H,
        xanchor="center", yanchor="middle", showarrow=False,
        font=dict(family="DejaVu Sans", size=48, color=FR)))

for r in range(3):
    T, B = row_px[r]
    layout["annotations"].append(dict(
        text=y_title, xref="paper", yref="paper", x=46 / W, y=1 - (T + B) / 2 / H,
        xanchor="center", yanchor="middle", textangle=-90, showarrow=False,
        font=dict(family="DejaVu Sans", size=35, color=FR, weight="bold")))

for cx in (305, 690):
    layout["annotations"].append(dict(
        text=x_title, xref="paper", yref="paper", x=cx / W, y=1 - 1186 / H,
        xanchor="center", yanchor="middle", showarrow=False,
        font=dict(family="DejaVu Sans", size=38, color=FR, weight="bold")))

fig.update_layout(**layout)
fig.write_html("out.html", config={"displayModeBar": False},
               post_script="document.body.style.margin='0';")
